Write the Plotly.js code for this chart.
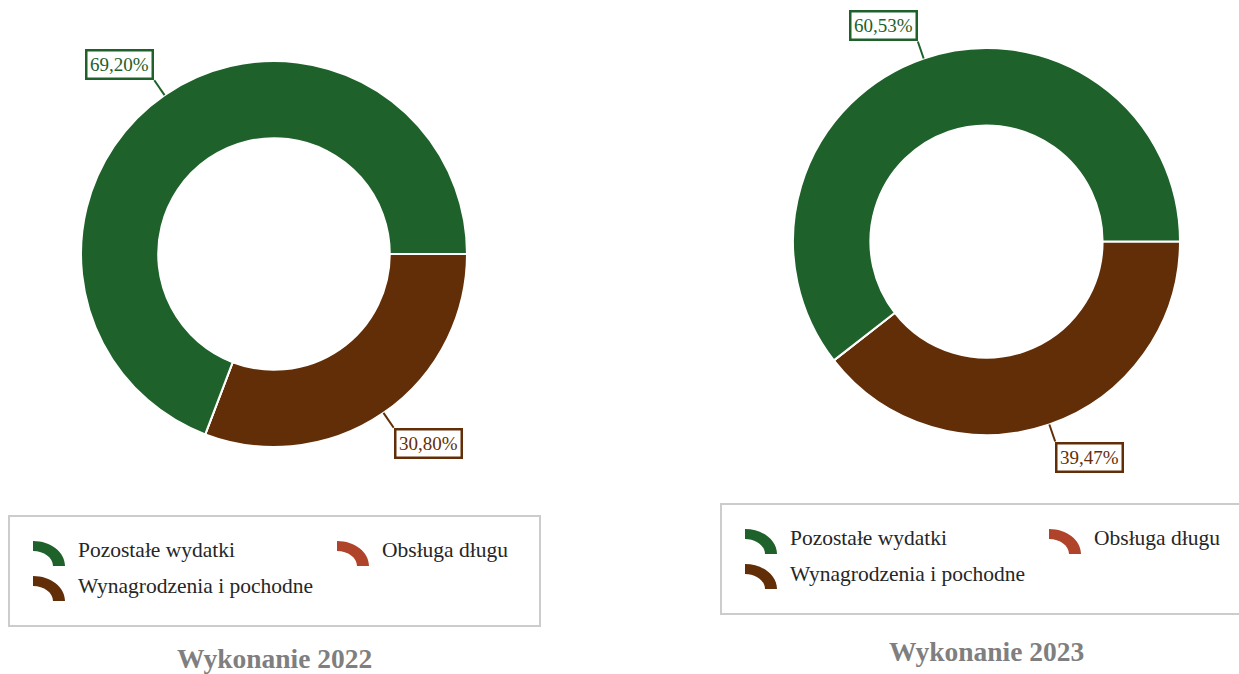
<!DOCTYPE html>
<html>
<head>
<meta charset="utf-8">
<script src="https://cdn.plot.ly/plotly-3.0.1.min.js"></script>
<style>html,body{margin:0;padding:0;background:#fff;}#chart{width:1239px;height:674px;}</style>
</head>
<body>
<div id="chart"></div>
<script>
// ---- data ----
const categories = ['Wynagrodzenia i pochodne', 'Obsługa długu', 'Pozostałe wydatki'];
const values2022 = [30.80, 0, 69.20];
const values2023 = [39.47, 0, 60.53];
const chartTitles = ['Wykonanie 2022', 'Wykonanie 2023'];
const legendRow1 = ['Pozostałe wydatki', 'Obsługa długu'];
const legendRow2 = ['Wynagrodzenia i pochodne'];
const colors = {
  'Wynagrodzenia i pochodne': '#622E08',
  'Obsługa długu': '#B0442A',
  'Pozostałe wydatki': '#1E612A'
};

// ---- layout geometry (pixels) ----
const W = 1239, H = 674;
const px = x => x / W;
const py = y => 1 - y / H;
const panels = [
  {values: values2022, title: chartTitles[0], cx: 274, cy: 254, r: 193, dx: 0, dy: 0, ty: 658},
  {values: values2023, title: chartTitles[1], cx: 986.5, cy: 241.5, r: 193.5, dx: 712, dy: -12, ty: 651}
];
const SERIF = '"Liberation Serif", "Times New Roman", serif';

const data = [], shapes = [], annotations = [];

function iconPath(cx, cy, color) {
  const rx = 32, ry = 25, rix = 20, riy = 15, k = 0.5523;
  const P = (x, y) => px(x) + ',' + py(y);
  const d = 'M' + P(cx, cy - ry) +
    ' C' + P(cx + k * rx, cy - ry) + ' ' + P(cx + rx, cy - k * ry) + ' ' + P(cx + rx, cy) +
    ' L' + P(cx + rix, cy) +
    ' C' + P(cx + rix, cy - k * riy) + ' ' + P(cx + k * rix, cy - riy) + ' ' + P(cx, cy - riy) + ' Z';
  return {type: 'path', xref: 'paper', yref: 'paper', path: d, fillcolor: color, line: {width: 0}};
}

panels.forEach(p => {
  data.push({
    type: 'pie',
    labels: categories,
    values: p.values,
    sort: false,
    direction: 'clockwise',
    rotation: 90,
    hole: 0.6,
    textinfo: 'none',
    hoverinfo: 'label+percent',
    showlegend: false,
    marker: {colors: categories.map(c => colors[c]), line: {color: '#ffffff', width: 2}},
    domain: {x: [px(p.cx - p.r), px(p.cx + p.r)], y: [py(p.cy + p.r), py(p.cy - p.r)]}
  });

  // percentage labels with leader lines
  const total = p.values.reduce((a, b) => a + b, 0);
  let cum = 0;
  p.values.forEach((v, i) => {
    const mid = (cum + v / 2) / total * 2 * Math.PI;
    cum += v;
    if (v <= 0) return;
    const c = Math.cos(mid), s = Math.sin(mid);
    const x0 = p.cx + p.r * c, y0 = p.cy + p.r * s;
    const L = 18;
    const x1 = x0 + L * c, y1 = y0 + L * s;
    const col = colors[categories[i]];
    shapes.push({type: 'line', xref: 'paper', yref: 'paper', x0: px(x0), y0: py(y0), x1: px(x1), y1: py(y1),
      line: {color: col, width: 2}});
    annotations.push({
      xref: 'paper', yref: 'paper', x: px(x1), y: py(y1),
      xanchor: c < 0 ? 'right' : 'left', yanchor: s < 0 ? 'bottom' : 'top',
      text: v.toFixed(2).replace('.', ',') + '%', showarrow: false,
      font: {family: SERIF, size: 19, color: col},
      bgcolor: '#ffffff', bordercolor: col, borderwidth: 2.5, borderpad: 2.5
    });
  });

  // legend box
  shapes.push({type: 'rect', xref: 'paper', yref: 'paper',
    x0: px(9 + p.dx), x1: px(540 + p.dx), y0: py(516 + p.dy), y1: py(626 + p.dy),
    line: {color: '#CCCCCC', width: 2}, fillcolor: 'rgba(0,0,0,0)'});
  const rows = [legendRow1, legendRow2];
  const colX = [33, 337];
  rows.forEach((row, ri) => {
    row.forEach((name, ci) => {
      const ix = colX[ci] + p.dx;
      const iy = 566 + ri * 35 + p.dy;
      shapes.push(iconPath(ix, iy, colors[name]));
      annotations.push({
        xref: 'paper', yref: 'paper', x: px(ix + 43), y: py(550 + ri * 36 + p.dy),
        xanchor: 'left', yanchor: 'middle', showarrow: false, text: name,
        font: {family: SERIF, size: 21.5, color: '#262626'}
      });
    });
  });

  // panel title
  annotations.push({
    xref: 'paper', yref: 'paper', x: px(274.5 + p.dx), y: py(p.ty),
    xanchor: 'center', yanchor: 'middle', showarrow: false,
    text: '<b>' + p.title + '</b>',
    font: {family: SERIF, size: 27.5, color: '#7F7F7F'}
  });
});

const layout = {
  width: W, height: H,
  margin: {l: 0, r: 0, t: 0, b: 0},
  paper_bgcolor: '#ffffff',
  plot_bgcolor: '#ffffff',
  showlegend: false,
  shapes: shapes,
  annotations: annotations
};

Plotly.newPlot('chart', data, layout, {displayModeBar: false, staticPlot: true});
</script>
</body>
</html>
